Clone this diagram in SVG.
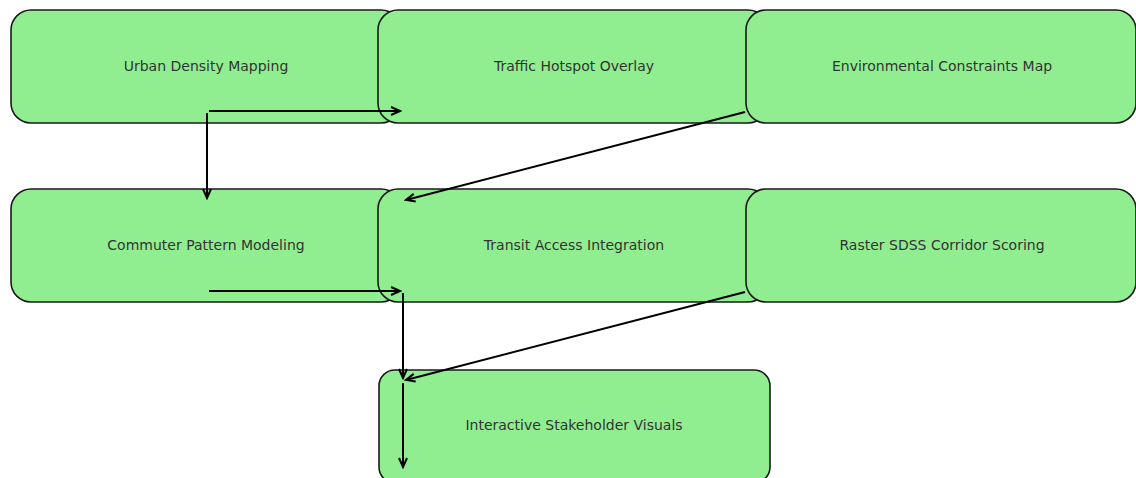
<svg xmlns="http://www.w3.org/2000/svg" width="1136" height="478" viewBox="0 0 1136 478">
<style>
.box{fill:#90ee90;stroke:#1a1a1a;stroke-width:1.6}
.lbl{font-family:"DejaVu Sans",sans-serif;font-size:14px;fill:#333333;text-anchor:middle;dominant-baseline:central}
.edge{fill:none;stroke:#000;stroke-width:2}
</style>
<defs>
<marker id="ah" markerWidth="12" markerHeight="12" refX="10" refY="5" orient="auto" markerUnits="userSpaceOnUse" viewBox="0 0 12 10">
<path d="M1,1 L10,5 L1,9" fill="none" stroke="#000" stroke-width="2"/>
</marker>
</defs>
<rect width="1136" height="478" fill="#fff"/>
<g id="n1"><rect class="box" x="11" y="10" width="390" height="113" rx="20"/><text class="lbl" x="206" y="66">Urban Density Mapping</text></g>
<g id="n2"><rect class="box" x="378" y="10" width="390" height="113" rx="20"/><text class="lbl" x="574" y="66">Traffic Hotspot Overlay</text></g>
<g id="n3"><rect class="box" x="746" y="10" width="390" height="113" rx="20"/><text class="lbl" x="942" y="66">Environmental Constraints Map</text></g>
<g id="n4"><rect class="box" x="11" y="189" width="390" height="113" rx="20"/><text class="lbl" x="206" y="245">Commuter Pattern Modeling</text></g>
<g id="n5"><rect class="box" x="378" y="189" width="390" height="113" rx="20"/><text class="lbl" x="574" y="245">Transit Access Integration</text></g>
<g id="n6"><rect class="box" x="746" y="189" width="390" height="113" rx="20"/><text class="lbl" x="942" y="245">Raster SDSS Corridor Scoring</text></g>
<g id="n7"><rect class="box" x="379" y="370" width="391" height="113" rx="16"/><text class="lbl" x="574" y="425">Interactive Stakeholder Visuals</text></g>
<g id="connectors">
<line class="edge" x1="209" y1="111" x2="400" y2="111" marker-end="url(#ah)"/>
<line class="edge" x1="207" y1="113" x2="207" y2="198" marker-end="url(#ah)"/>
<line class="edge" x1="745" y1="112" x2="406" y2="200" marker-end="url(#ah)"/>
<line class="edge" x1="209" y1="291" x2="400" y2="291" marker-end="url(#ah)"/>
<line class="edge" x1="403" y1="293" x2="403" y2="378" marker-end="url(#ah)"/>
<line class="edge" x1="745" y1="292" x2="406" y2="380" marker-end="url(#ah)"/>
<line class="edge" x1="403" y1="383" x2="403" y2="467" marker-end="url(#ah)"/>
</g>
</svg>
